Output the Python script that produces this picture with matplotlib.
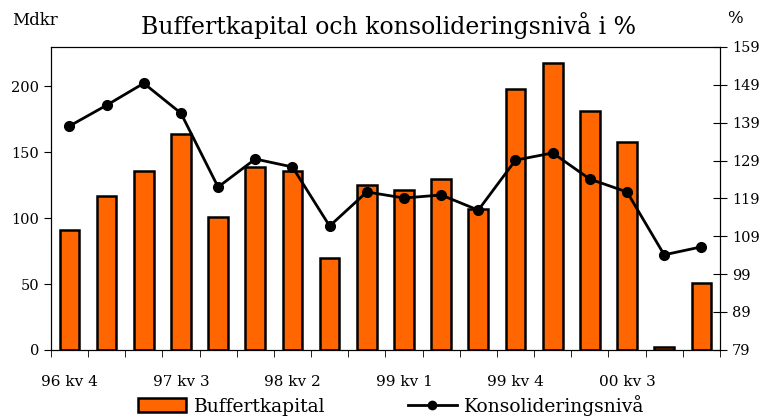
import numpy as np
import matplotlib
matplotlib.use('Agg')
import matplotlib.pyplot as plt
from matplotlib.lines import Line2D
from matplotlib.patches import Patch

quarters = ['96 kv 4', '97 kv 1', '97 kv 2', '97 kv 3', '97 kv 4', '98 kv 1',
            '98 kv 2', '98 kv 3', '98 kv 4', '99 kv 1', '99 kv 2', '99 kv 3',
            '99 kv 4', '00 kv 1', '00 kv 2', '00 kv 3', '00 kv 4', '01 kv 1']
buffert = [91, 117, 136, 164, 101, 139, 136, 70, 125, 121, 130, 107,
           198, 218, 181, 158, 2, 51]
konsolid = [138.1, 143.6, 149.4, 141.5, 122, 129.4, 127.3, 111.7, 120.7, 119.1,
            119.9, 115.9, 129.1, 131, 124.1, 120.7, 104.1, 106.2]

plt.rcParams['font.family'] = 'DejaVu Serif'

fig = plt.figure(figsize=(7.7, 4.19), dpi=100)
ax = fig.add_axes([0.066, 0.165, 0.869, 0.723])
x = np.arange(len(quarters))

ax.bar(x, buffert, width=0.53, color='#ff6600', edgecolor='black', linewidth=1.8, zorder=2)
ax.set_xlim(-0.5, len(quarters) - 0.5)
ax.set_ylim(0, 230)
ax.set_yticks([0, 50, 100, 150, 200])
ax.tick_params(axis='y', direction='out', length=5, labelsize=10.5)

# category labels every third quarter, ticks on boundaries
ax.set_xticks(x[::3])
ax.set_xticklabels(quarters[::3], fontsize=11)
ax.tick_params(axis='x', which='major', length=0, pad=18)
ax.set_xticks(np.arange(-0.5, len(quarters)), minor=True)
ax.tick_params(axis='x', which='minor', direction='out', length=5)

ax2 = ax.twinx()
ax2.plot(x, konsolid, color='black', linewidth=2, marker='o', markersize=7, zorder=3)
ax2.set_ylim(79, 159)
ax2.set_yticks(np.arange(79, 160, 10))
ax2.tick_params(axis='y', direction='inout', length=10, labelsize=10.5)

fig.text(0.504, 0.94, 'Buffertkapital och konsolideringsnivå i %', ha='center', va='center', fontsize=17)
fig.text(0.016, 0.952, 'Mdkr', ha='left', va='center', fontsize=12)
fig.text(0.955, 0.957, '%', ha='center', va='center', fontsize=12)

handles = [Patch(facecolor='#ff6600', edgecolor='black', linewidth=1.8),
           Line2D([0], [0], color='black', linewidth=2, marker='o', markersize=6)]
fig.legend(handles, ['Buffertkapital', 'Konsolideringsnivå'], loc='lower center',
           bbox_to_anchor=(0.508, -0.032), ncol=2, frameon=False, fontsize=13.5,
           handlelength=2.6, handletextpad=0.4, columnspacing=4.4)

fig.savefig('out.png', dpi=100)
